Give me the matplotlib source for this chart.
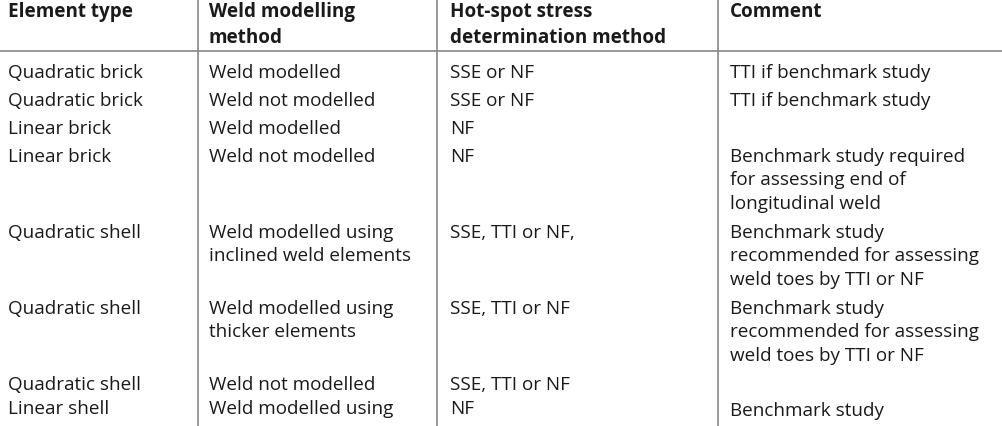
import matplotlib
matplotlib.use("Agg")
import matplotlib.pyplot as plt

headers = ["Element type", "Weld modelling\nmethod", "Hot-spot stress\ndetermination method", "Comment"]
element_type = ["Quadratic brick", "Quadratic brick", "Linear brick", "Linear brick",
                "Quadratic shell", "Quadratic shell", "Quadratic shell", "Linear shell"]
weld_method = ["Weld modelled", "Weld not modelled", "Weld modelled", "Weld not modelled",
               "Weld modelled using\ninclined weld elements", "Weld modelled using\nthicker elements",
               "Weld not modelled", "Weld modelled using"]
hotspot = ["SSE or NF", "SSE or NF", "NF", "NF", "SSE, TTI or NF,", "SSE, TTI or NF",
           "SSE, TTI or NF", "NF"]
comment = ["TTI if benchmark study", "TTI if benchmark study", "",
           "Benchmark study required\nfor assessing end of\nlongitudinal weld",
           "Benchmark study\nrecommended for assessing\nweld toes by TTI or NF",
           "Benchmark study\nrecommended for assessing\nweld toes by TTI or NF",
           "", "Benchmark study"]
row_y = [75, 103, 131, 159, 235, 311, 387, 411]

fig = plt.figure(figsize=(10.03, 4.27), dpi=100)
ax = fig.add_axes([0, 0, 1, 1])
ax.set_xlim(0, 1003); ax.set_ylim(427, 0); ax.axis("off")
fam = ["Open Sans", "DejaVu Sans"]
fs = 13.6
lh = 1.38
col_x = [8, 209, 450, 730]
for x, h in zip(col_x, headers):
    ax.text(x, 2, h, fontsize=fs, fontweight="bold", family=fam, va="top", linespacing=lh, color="#1a1a1a")
ax.plot([0, 1003], [52, 52], color="#888888", lw=1.2)
for vx in [198, 437, 718]:
    ax.plot([vx, vx], [0, 427], color="#888888", lw=1.2)
for col, x in zip([element_type, weld_method, hotspot, comment], col_x):
    for i, t in enumerate(col):
        y = row_y[i] + 2 if (col is comment and i == 7) else row_y[i]
        ax.text(x, y - 11, t, fontsize=fs, family=fam, va="top", linespacing=lh, color="#1a1a1a")
fig.savefig("out.png", dpi=100)
